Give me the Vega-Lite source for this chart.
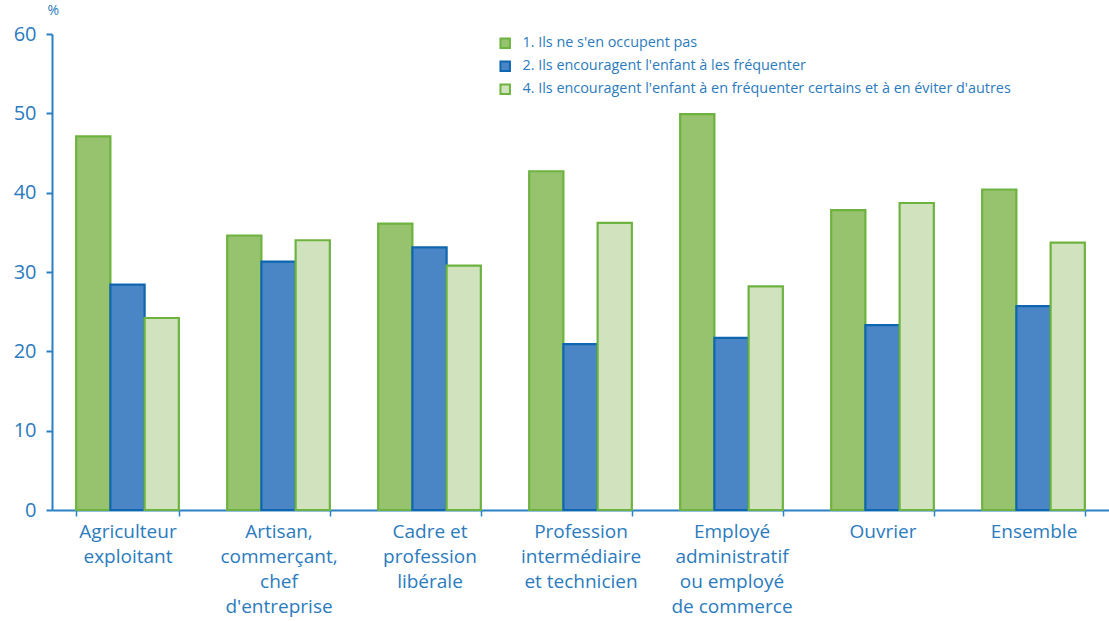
{
  "$schema": "https://vega.github.io/schema/vega-lite/v6.json",
  "width": 1057,
  "height": 476,
  "autosize": {"type": "none"},
  "padding": {"left": 52, "top": 34, "right": 0, "bottom": 111},
  "background": "white",
  "config": {"view": {"stroke": null}, "font": "Open Sans"},
  "data": {
    "values": [
      {"cat": "Agriculteur|exploitant", "serie": "1. Ils ne s'en occupent pas", "v": 47.1},
      {"cat": "Agriculteur|exploitant", "serie": "2. Ils encouragent l'enfant à les fréquenter", "v": 28.4},
      {"cat": "Agriculteur|exploitant", "serie": "4. Ils encouragent l'enfant à en fréquenter certains et à en éviter d'autres", "v": 24.2},
      {"cat": "Artisan,|commerçant,|chef|d'entreprise", "serie": "1. Ils ne s'en occupent pas", "v": 34.6},
      {"cat": "Artisan,|commerçant,|chef|d'entreprise", "serie": "2. Ils encouragent l'enfant à les fréquenter", "v": 31.3},
      {"cat": "Artisan,|commerçant,|chef|d'entreprise", "serie": "4. Ils encouragent l'enfant à en fréquenter certains et à en éviter d'autres", "v": 34.0},
      {"cat": "Cadre et|profession|libérale", "serie": "1. Ils ne s'en occupent pas", "v": 36.1},
      {"cat": "Cadre et|profession|libérale", "serie": "2. Ils encouragent l'enfant à les fréquenter", "v": 33.1},
      {"cat": "Cadre et|profession|libérale", "serie": "4. Ils encouragent l'enfant à en fréquenter certains et à en éviter d'autres", "v": 30.8},
      {"cat": "Profession|intermédiaire|et technicien", "serie": "1. Ils ne s'en occupent pas", "v": 42.7},
      {"cat": "Profession|intermédiaire|et technicien", "serie": "2. Ils encouragent l'enfant à les fréquenter", "v": 20.9},
      {"cat": "Profession|intermédiaire|et technicien", "serie": "4. Ils encouragent l'enfant à en fréquenter certains et à en éviter d'autres", "v": 36.2},
      {"cat": "Employé|administratif|ou employé|de commerce", "serie": "1. Ils ne s'en occupent pas", "v": 49.9},
      {"cat": "Employé|administratif|ou employé|de commerce", "serie": "2. Ils encouragent l'enfant à les fréquenter", "v": 21.7},
      {"cat": "Employé|administratif|ou employé|de commerce", "serie": "4. Ils encouragent l'enfant à en fréquenter certains et à en éviter d'autres", "v": 28.2},
      {"cat": "Ouvrier", "serie": "1. Ils ne s'en occupent pas", "v": 37.8},
      {"cat": "Ouvrier", "serie": "2. Ils encouragent l'enfant à les fréquenter", "v": 23.3},
      {"cat": "Ouvrier", "serie": "4. Ils encouragent l'enfant à en fréquenter certains et à en éviter d'autres", "v": 38.7},
      {"cat": "Ensemble", "serie": "1. Ils ne s'en occupent pas", "v": 40.4},
      {"cat": "Ensemble", "serie": "2. Ils encouragent l'enfant à les fréquenter", "v": 25.7},
      {"cat": "Ensemble", "serie": "4. Ils encouragent l'enfant à en fréquenter certains et à en éviter d'autres", "v": 33.7}
    ]
  },
  "mark": {"type": "bar", "strokeWidth": 2.2},
  "encoding": {
    "x": {
      "field": "cat", "type": "nominal", "sort": null,
      "scale": {"paddingInner": 0.32, "paddingOuter": 0.16},
      "axis": {
        "title": null, "labelAngle": 0, "labelExpr": "split(datum.label, '|')",
        "labelFontSize": 19, "labelLineHeight": 25, "labelColor": "#2B7BBE",
        "labelPadding": 6, "domainColor": "#2A80C4", "domainWidth": 2,
        "tickBand": "extent", "tickColor": "#2A80C4", "tickWidth": 1.5, "tickSize": 6,
        "labelBaseline": "top"
      }
    },
    "xOffset": {"field": "serie", "type": "nominal", "scale": {"paddingInner": 0, "paddingOuter": 0}},
    "y": {
      "field": "v", "type": "quantitative",
      "scale": {"domain": [0, 60]},
      "axis": {
        "values": [0, 10, 20, 30, 40, 50, 60], "grid": false,
        "title": "%", "titleAngle": 0, "titleX": -5, "titleY": -17, "titleAlign": "left",
        "titleFontSize": 14, "titleFontWeight": "normal", "titleColor": "#2B7BBE",
        "labelFontSize": 20, "labelColor": "#2B7BBE", "labelPadding": 10,
        "domainColor": "#2A80C4", "domainWidth": 2, "tickColor": "#2A80C4",
        "tickWidth": 2, "tickSize": 6
      }
    },
    "fill": {
      "field": "serie", "type": "nominal",
      "scale": {"range": ["#97C36F", "#4A86C5", "#D0E3BE"]},
      "legend": {
        "title": null, "orient": "none", "legendX": 446, "legendY": 2,
        "symbolType": "square", "symbolSize": 90, "symbolStrokeWidth": 2,
        "labelFontSize": 14.4, "labelColor": "#2B7BBE", "rowPadding": 5, "labelOffset": 10,
        "labelLimit": 0
      }
    },
    "stroke": {
      "field": "serie", "type": "nominal",
      "scale": {"range": ["#6DB33F", "#0E66B0", "#6DB33F"]},
      "legend": null
    }
  }
}
